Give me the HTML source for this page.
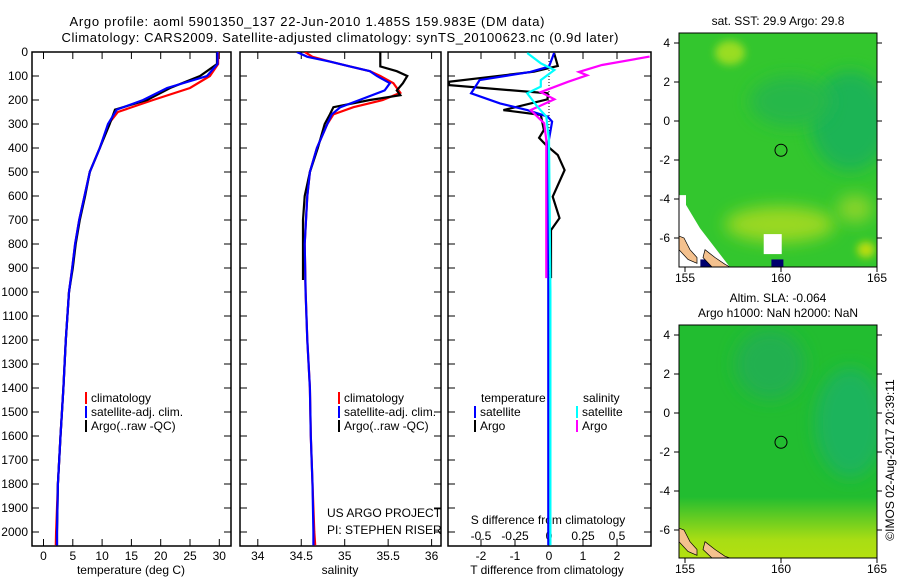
<!DOCTYPE html>
<html><head><meta charset="utf-8"><style>
html,body{margin:0;padding:0;background:#fff;width:900px;height:580px;overflow:hidden}
svg{display:block;font-family:"Liberation Sans",sans-serif;overflow:hidden}
</style></head><body>
<svg id="c" width="900" height="580" viewBox="0 0 900 580">
<defs>
<filter id="bl" x="-50%" y="-50%" width="200%" height="200%"><feGaussianBlur stdDeviation="8"/></filter>
<filter id="bl2" x="-50%" y="-50%" width="200%" height="200%"><feGaussianBlur stdDeviation="4"/></filter>
<linearGradient id="band" x1="0" y1="0" x2="0" y2="1">
<stop offset="0" stop-color="#66cc22" stop-opacity="0"/>
<stop offset="0.35" stop-color="#66cc22" stop-opacity="1"/>
<stop offset="0.7" stop-color="#a8dd14" stop-opacity="1"/>
<stop offset="1" stop-color="#b4e010" stop-opacity="1"/>
</linearGradient>
<clipPath id="cm1"><rect x="679" y="33" width="198" height="234"/></clipPath>
<clipPath id="cm2"><rect x="679" y="325" width="198" height="233"/></clipPath>
<clipPath id="cp1"><rect x="32" y="52" width="199" height="494"/></clipPath>
<clipPath id="cp2"><rect x="240" y="52" width="201" height="494"/></clipPath>
<clipPath id="cp3"><rect x="448" y="52" width="203" height="494"/></clipPath>
</defs>
<text x="307" y="26" text-anchor="middle" font-size="13" textLength="475">Argo profile: aoml 5901350_137 22-Jun-2010 1.485S 159.983E (DM data)</text>
<text x="340" y="42" text-anchor="middle" font-size="13" textLength="557">Climatology: CARS2009. Satellite-adjusted climatology: synTS_20100623.nc (0.9d later)</text>
<g id="axes"></g>
<g id="maps"></g>
</svg>
<script>
// ---- data ----
const tDepth = [0,50,100,150,200,240,300,400,500,600,700,800,900,1000,1200,1400,1600,1800,2000,2055];
const tArgo  = [29.6,29.6,26.7,21.6,17.7,12.2,11.3,9.6,7.9,7.1,6.2,5.5,5.0,4.35,3.8,3.4,2.9,2.45,2.3,2.3];
const tClimDepth = [0,50,100,150,200,250,300,400,500,600,700,800,900,1000,1200,1400,1600,1800,2000,2055];
const tClim  = [29.8,29.8,28.4,25.0,18.7,12.7,11.1,9.6,7.9,7.0,6.1,5.4,4.9,4.35,3.8,3.4,2.9,2.45,2.15,2.1];
const tSat   = [29.7,29.7,27.9,21.1,17.0,12.5,11.0,9.6,7.9,7.0,6.1,5.4,4.9,4.35,3.8,3.4,2.9,2.45,2.3,2.3];

const sArgoDepth = [0,60,80,100,130,160,180,200,230,260,300,400,500,600,700,900,950];
const sArgo  = [35.41,35.41,35.6,35.72,35.67,35.6,35.64,35.29,34.87,34.83,34.77,34.69,34.6,34.54,34.52,34.52,34.52];
const sClimDepth = [0,20,40,60,80,100,130,170,200,230,260,300,400,500,600,800,1000,1200,1400,1600,1800,2000,2055];
const sClim  = [34.54,34.63,34.83,35.06,35.29,35.41,35.56,35.64,35.44,35.1,34.87,34.8,34.68,34.6,34.57,34.54,34.55,34.57,34.6,34.61,34.63,34.65,34.66];
const sSatDepth = [0,20,40,60,80,100,130,160,200,230,260,300,400,500,600,800,1000,1200,1400,1600,1800,2000,2055];
const sSat   = [34.45,34.57,34.83,35.06,35.29,35.37,35.52,35.46,35.17,34.95,34.85,34.8,34.68,34.6,34.57,34.54,34.55,34.57,34.6,34.61,34.63,34.64,34.64];

const dTArgoDepth = [4,58,82,124,138,172,197,242,262,325,358,387,429,492,603,692,742,783,942];
const dTArgo = [0.15,0.26,-0.44,-2.94,-2.94,-0.04,-0.04,-1.34,-0.24,-0.15,-0.29,-0.09,0.26,0.46,0.11,0.31,0.06,0.06,0.06];
const dTSatDepth = [4,61,83,117,172,214,242,269,290,397,925,2055];
const dTSat  = [0.15,0,-0.55,-2.04,-2.29,-1.44,-0.64,-0.04,0.09,-0.04,-0.02,-0.02];
const dSSatDepth = [4,47,75,117,144,172,228,269,367,1000,2055];
const dSSat  = [-0.16,-0.06,0.04,-0.06,-0.06,-0.16,-0.085,-0.02,0,0.01,0.01];
const dSArgoDepth = [19,54,83,97,124,167,197,228,242,297,367,644,942];
const dSArgo = [0.74,0.39,0.22,0.28,0.14,-0.06,0.04,-0.08,-0.135,-0.035,-0.02,-0.02,-0.02];

const depthTicks = [0,100,200,300,400,500,600,700,800,900,1000,1100,1200,1300,1400,1500,1600,1700,1800,1900,2000];
const tTicks = [0,5,10,15,20,25,30];
const sTicks = [34,34.5,35,35.5,36];
const sTickLabels = ['34','34.5','35','35.5','36'];
const dTTicks = [-2,-1,0,1,2];
const dSTicks = [-0.5,-0.25,0,0.25,0.5];
const dSTickLabels = ['-0.5','-0.25','0','0.25','0.5'];
const latTicks = [4,2,0,-2,-4,-6];
const lonTicks = [155,160,165];

// ---- scales ----
const yD = d => 52 + 0.24*d;
const xT = t => 43.5 + 5.86*t;
const xS = s => 257.8 + 86.9*(s-34);
const xDT = v => 549 + 34*v;
const xDS = v => 549 + 136*v;
const NS='http://www.w3.org/2000/svg';
const g = document.getElementById('axes');
function el(tag, attrs, parent){const e=document.createElementNS(NS,tag);for(const k in attrs)e.setAttribute(k,attrs[k]);(parent||g).appendChild(e);return e;}
function txt(x,y,s,size,anchor,parent){const e=el('text',{x:x,y:y,'font-size':size,'text-anchor':anchor||'middle'},parent);e.textContent=s;return e;}

const panels=[{x0:32,x1:231,clip:'cp1'},{x0:240,x1:441,clip:'cp2'},{x0:448,x1:651,clip:'cp3'}];
panels.forEach((p,i)=>{
  const r=el('rect',{x:p.x0,y:52,width:p.x1-p.x0,height:494,fill:'none',stroke:'#000','stroke-width':1.5});
  
  
  depthTicks.forEach(d=>{
    el('line',{x1:p.x0,x2:p.x0+7,y1:yD(d),y2:yD(d),stroke:'#000'});
    el('line',{x1:p.x1-7,x2:p.x1,y1:yD(d),y2:yD(d),stroke:'#000'});
  });
});
depthTicks.forEach(d=>{
  const t=txt(28,yD(d)+4,String(d),12,'end');
  
  
});
function xticks(vals,labels,fx,ylab){
  vals.forEach((v,i)=>{
    const x=fx(v);
    el('line',{x1:x,x2:x,y1:52,y2:59,stroke:'#000'});
    el('line',{x1:x,x2:x,y1:539,y2:546,stroke:'#000'});
    const t=txt(x,ylab,labels[i],12);
    
    
  });
}
xticks(tTicks,tTicks.map(String),xT,560);
xticks(sTicks,sTickLabels,xS,560);
xticks(dTTicks,dTTicks.map(String),xDT,560);
dSTicks.forEach((v,i)=>{
  const t=txt(xDS(v),540,dSTickLabels[i],12);
  
  
});
[[131,'temperature (deg C)','x-axis-title-temperature'],[340,'salinity','x-axis-title-salinity'],[547,'T difference from climatology','x-axis-title-t-diff']].forEach(a=>{
  const t=txt(a[0],574,a[1],12);
  
  
});
{const t=txt(548,524,'S difference from climatology',12);

}
{const l=el('line',{x1:549,x2:549,y1:52,y2:280,stroke:'#000','stroke-dasharray':'1,2'});

}

function series(vals,depths,fx,color,clip,name){
  const pts=vals.map((v,i)=>fx(v).toFixed(1)+','+yD(depths[i]).toFixed(1)).join(' ');
  const e=el('polyline',{points:pts,fill:'none',stroke:color,'stroke-width':2.2,'clip-path':'url(#'+clip+')'});
  
  
}
series(tClim,tClimDepth,xT,'#ff0000','cp1','temp-climatology-line');
series(tArgo,tDepth,xT,'#000000','cp1','temp-argo-line');
series(tSat,tDepth,xT,'#0000ff','cp1','temp-satellite-line');
series(sClim,sClimDepth,xS,'#ff0000','cp2','sal-climatology-line');
series(sArgo,sArgoDepth,xS,'#000000','cp2','sal-argo-line');
series(sSat,sSatDepth,xS,'#0000ff','cp2','sal-satellite-line');
series(dTArgo,dTArgoDepth,xDT,'#000000','cp3','tdiff-argo-line');
series(dTSat,dTSatDepth,xDT,'#0000ff','cp3','tdiff-satellite-line');
series(dSArgo,dSArgoDepth,xDS,'#ff00ff','cp3','sdiff-argo-line');
series(dSSat,dSSatDepth,xDS,'#00ffff','cp3','sdiff-satellite-line');

function legend(x,y,color,label){
  const gg=el('g',{});
  
  
  el('rect',{x:x,y:y-10,width:2,height:12,fill:color},gg);
  txt(x+6,y,label,12,'start',gg);
}
[[85,'#ff0000','climatology'],[85,'#0000ff','satellite-adj. clim.'],[85,'#000000','Argo(..raw -QC)']].forEach((a,i)=>legend(a[0],402+i*14,a[1],a[2]));
[[338,'#ff0000','climatology'],[338,'#0000ff','satellite-adj. clim.'],[338,'#000000','Argo(..raw -QC)']].forEach((a,i)=>legend(a[0],402+i*14,a[1],a[2]));
{const t=txt(481,402,'temperature',12,'start');
const t2=txt(583,402,'salinity',12,'start');}
legend(474,416,'#0000ff','satellite');
legend(474,430,'#000000','Argo');
legend(576,416,'#00ffff','satellite');
legend(576,430,'#ff00ff','Argo');
{const t=txt(327,517,'US ARGO PROJECT',12,'start');
const t2=txt(327,534,'PI: STEPHEN RISER',12,'start');}

// ---- maps ----
const mg=document.getElementById('maps');
function mapPanel(top,clip,kind,name){
  const lonX=l=>685+19.2*(l-155);
  const latY=a=>top+10+19.5*(4-a);
  const grp=el('g',{'clip-path':'url(#'+clip+')'},mg);
  
  
  const h=kind==='sst'?234:233;
  const bot=top+h;
  if(kind==='sst'){
    el('rect',{x:679,y:top,width:198,height:h,fill:'#33c62e'},grp);
    el('ellipse',{cx:850,cy:latY(0),rx:40,ry:50,fill:'#1fb455',filter:'url(#bl)'},grp);
    el('ellipse',{cx:790,cy:latY(1),rx:40,ry:25,fill:'#26b84a',filter:'url(#bl)'},grp);
    el('ellipse',{cx:730,cy:latY(3.5),rx:15,ry:12,fill:'#99dd22',filter:'url(#bl2)'},grp);
    el('ellipse',{cx:780,cy:latY(-5.3),rx:55,ry:18,fill:'#9ad820',filter:'url(#bl)'},grp);
    el('ellipse',{cx:855,cy:latY(-4.5),rx:18,ry:14,fill:'#88d42a',filter:'url(#bl)'},grp);
    el('ellipse',{cx:866,cy:latY(-6.6),rx:9,ry:8,fill:'#bbdd11',filter:'url(#bl2)'},grp);
    el('polygon',{points:`679,${latY(-3.8)} 686,${latY(-3.8)} 686,${latY(-4.3)} 700,${latY(-5.5)} 730,${latY(-7.5)} 679,${latY(-7.5)}`,fill:'#fff'},grp);
    el('rect',{x:lonX(159.1),y:latY(-5.8),width:18,height:20,fill:'#fff'},grp);
    el('rect',{x:lonX(155.8),y:latY(-7.1),width:12,height:bot-latY(-7.1),fill:'#00006e'},grp);
    el('rect',{x:lonX(159.5),y:latY(-7.1),width:12,height:bot-latY(-7.1),fill:'#00006e'},grp);
  } else {
    el('rect',{x:679,y:top,width:198,height:h,fill:'#22bd30'},grp);
    el('ellipse',{cx:850,cy:latY(-0.5),rx:35,ry:55,fill:'#1cb45c',filter:'url(#bl)'},grp);
    el('ellipse',{cx:770,cy:latY(2.5),rx:35,ry:35,fill:'#20b050',filter:'url(#bl)'},grp);
    el('rect',{x:679,y:latY(-4.3),width:198,height:bot-latY(-4.3),fill:'url(#band)'},grp);
  }
  el('polygon',{points:`679,${latY(-5.9)} 684,${latY(-6)} 690,${latY(-6.6)} 697,${latY(-7)} 697,${latY(-7.3)} 688,${latY(-7.1)} 679,${latY(-6.6)}`,fill:'#f4c18e',stroke:'#000','stroke-width':0.7},grp);
  el('polygon',{points:`705,${latY(-6.6)} 715,${latY(-7)} 725,${latY(-7.35)} 730,${bot} 712,${bot} 703,${latY(-7)}`,fill:'#f4c18e',stroke:'#000','stroke-width':0.7},grp);
  const fr=el('rect',{x:679,y:top,width:198,height:h,fill:'none',stroke:'#000','stroke-width':1},mg);
  
  
  const c=el('circle',{cx:lonX(160),cy:latY(-1.5),r:6,fill:'none',stroke:'#000','stroke-width':1},mg);
  
  
  latTicks.forEach(a=>{
    el('line',{x1:674,x2:679,y1:latY(a),y2:latY(a),stroke:'#000'},mg);
    el('line',{x1:877,x2:882,y1:latY(a),y2:latY(a),stroke:'#000'},mg);
    const t=txt(670,latY(a)+4,String(a),12,'end',mg);
    
    
  });
  lonTicks.forEach(l=>{
    el('line',{x1:lonX(l),x2:lonX(l),y1:bot,y2:bot+5,stroke:'#000'},mg);
    const t=txt(lonX(l),bot+15,String(l),12,'middle',mg);
    
    
  });
}
mapPanel(33,'cm1','sst','sst-map');
mapPanel(325,'cm2','sla','sla-map');
{const t=txt(778,25,'sat. SST: 29.9 Argo: 29.8',12,'middle',mg);
const t2=txt(778,302,'Altim. SLA: -0.064',12,'middle',mg);
const t3=txt(778,317,'Argo h1000: NaN h2000: NaN',12,'middle',mg);
const t4=txt(0,0,'©IMOS 02-Aug-2017 20:39:11',12,'middle',mg);t4.setAttribute('transform','translate(894,460) rotate(-90)');}
</script>
</body></html>
